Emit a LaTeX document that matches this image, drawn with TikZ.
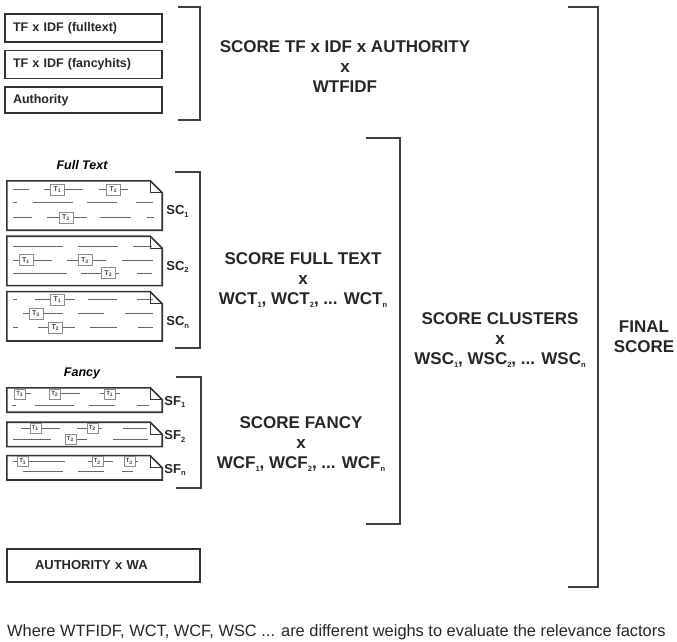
\documentclass[tikz,border=0pt]{standalone}
\usepackage{fontspec}
\setmainfont{Liberation Sans}
\usetikzlibrary{positioning}
\newcommand{\indice}[1]{\raisebox{-2.5pt}{\fontsize{7.5}{7.5}\selectfont #1}}
\tikzset{
  caja/.style={rectangle, draw=black!80, line width=1.6pt, inner ysep=0pt,
               inner xsep=8pt, text width=141pt, minimum height=28pt,
               align=left, font=\fontsize{12.5}{14}\selectfont\bfseries,
               text=black!85},
  hoja/.style={rectangle, inner sep=0pt, minimum width=155pt},
  borde/.style={draw=black!80, line width=1.6pt, line join=miter},
  renglon/.style={draw=black!60, line width=1.3pt},
  marca/.style={rectangle, draw=black!45, line width=0.6pt, fill=white,
                inner sep=0pt, minimum width=14pt, minimum height=11pt,
                font=\fontsize{7}{7}\selectfont\bfseries, text=black!75},
  corchete/.style={draw=black!75, line width=1.8pt},
  titulo/.style={align=center, font=\fontsize{17}{20}\selectfont\bfseries,
                 text=black!85},
  etiqueta/.style={anchor=west, inner sep=0pt,
                   font=\fontsize{13}{13}\selectfont\bfseries, text=black!85}
}
% contorno de la hoja con la esquina doblada
\newcommand{\hojaborde}[2]{%
  \draw[borde] (#1.south west) -- (#1.north west)
    -- ([xshift=-#2]#1.north east) -- ([yshift=-#2]#1.north east)
    -- (#1.south east) -- cycle;
  \draw[borde, line width=1pt] ([xshift=-#2]#1.north east)
    -- ([xshift=-#2,yshift=-#2]#1.north east) -- ([yshift=-#2]#1.north east);}
% renglones y terminos dentro de una hoja
\newcommand{\contenido}[4][marca]{%
  \begin{scope}[shift={(#2.north west)}]
    \foreach \a/\b/\y in {#3} \draw[renglon] (\a,-\y) -- (\b,-\y);
    \foreach \x/\y/\t [count=\k] in {#4}
      \node[#1] (#2-t\k) at (\x,-\y) {T\textsubscript{\t}};
  \end{scope}}

\begin{document}
\begin{tikzpicture}[x=1pt, y=1pt,
  chica/.style={marca, minimum width=11pt, minimum height=10pt,
                font=\fontsize{6}{6}\selectfont\bfseries}
]
  \useasboundingbox (0,0) rectangle (677,-642);

  % ── Factores TF x IDF ──
  \node[caja]                                  (tfft) at (83.5,-28) {TF x IDF (fulltext)};
  \node[caja, below=7pt of tfft]               (tffh) {TF x IDF (fancyhits)};
  \node[caja, below=7pt of tffh, minimum height=26pt] (aut) {Authority};
  \draw[corchete] (178,-7) -| (200,-120) -- (178,-120);
  \node[titulo] (stfidf) at (345,-67) {SCORE TF x IDF x AUTHORITY\\x\\WTFIDF};

  % ── Full Text ──
  \node[font=\fontsize{12.5}{14}\selectfont\bfseries\itshape] (lft) at (82,-165) {Full Text};
  \node[hoja, minimum height=49pt]                  (ft1) at (84.5,-205.5) {};
  \node[hoja, minimum height=49pt, below=6pt of ft1] (ft2) {};
  \node[hoja, minimum height=49pt, below=6pt of ft2] (ft3) {};
  \foreach \h in {ft1,ft2,ft3} {\hojaborde{\h}{12pt}}
  \contenido{ft1}{6/22/9, 37/76/9, 92/121/9, 6/10/22, 26/66/22, 80/110/22,
                  129/146/22, 6/25/37, 40/80/37, 93/124/37, 140/147/37}
                 {50.5/9/1, 106.5/9/2, 59/37/3}
  \contenido{ft2}{6/56/10, 71/111/10, 126/145/10, 6/45/24, 60/99/24,
                  115/146/24, 6/60/37, 74/112/37, 130/145/37}
                 {19/24/1, 78/24/3, 101.5/37/2}
  \contenido{ft3}{6/10/8, 28/68/8, 81/110/8, 130/146/8, 16/56/22, 71/97/22,
                  118/146/22, 6/11/36, 31/68/36, 83/110/36, 131/146/36}
                 {50.5/8/1, 29/22/3, 48.5/36/2}
  \node[etiqueta] (sc1) at ([xshift=4pt,yshift=-6pt]ft1.east) {SC\indice{1}};
  \node[etiqueta] (sc2) at ([xshift=4pt,yshift=-6pt]ft2.east) {SC\indice{2}};
  \node[etiqueta] (scn) at ([xshift=4pt,yshift=-6pt]ft3.east) {SC\indice{n}};
  \draw[corchete] (175,-172) -| (200,-348) -- (175,-348);

  % ── Fancy ──
  \node[font=\fontsize{12.5}{14}\selectfont\bfseries\itshape] (lfy) at (82,-373) {Fancy};
  \node[hoja, minimum height=24pt]                    (fy1) at (84.5,-400) {};
  \node[hoja, minimum height=24pt, below=10pt of fy1] (fy2) {};
  \node[hoja, minimum height=24pt, below=9pt of fy2]  (fy3) {};
  \foreach \h in {fy1,fy2,fy3} {\hojaborde{\h}{12pt}}
  \contenido[chica]{fy1}{8/24/6, 43/73/6, 93/113/6, 5/9/18, 28/67/18, 82/108/18, 130/142/18}
                        {13/6/3, 48/6/2, 103/6/1}
  \contenido[chica]{fy2}{14/53/6, 70/95/6, 116/140/6, 6/44/17, 58/80/17, 106/141/17}
                        {28.5/6/1, 85.5/6/2, 63.5/17/3}
  \contenido[chica]{fy3}{6/58/6, 81/106/6, 117/131/6, 16/56/16, 71/97/16, 115/126/16}
                        {16/6/1, 90.5/6/2, 122.5/6/3}
  \node[etiqueta] (sf1) at ([xshift=2pt,yshift=-2pt]fy1.east) {SF\indice{1}};
  \node[etiqueta] (sf2) at ([xshift=2pt,yshift=-2pt]fy2.east) {SF\indice{2}};
  \node[etiqueta] (sfn) at ([xshift=2pt,yshift=-2pt]fy3.east) {SF\indice{n}};
  \draw[corchete] (176,-377) -| (201,-488) -- (176,-488);

  % ── Scores intermedios ──
  \node[titulo] (sft) at (303,-280)
        {SCORE FULL TEXT\\x\\WCT\indice{1}, WCT\indice{2}, ... WCT\indice{n}};
  \node[titulo] (sfy) at (301,-444)
        {SCORE FANCY\\x\\WCF\indice{1}, WCF\indice{2}, ... WCF\indice{n}};
  \draw[corchete] (366,-138) -| (400,-524) -- (366,-524);
  \node[titulo] (scl) at (500,-340)
        {SCORE CLUSTERS\\x\\WSC\indice{1}, WSC\indice{2}, ... WSC\indice{n}};

  % ── Score final ──
  \draw[corchete] (568,-7) -| (598,-587) -- (568,-587);
  \node[titulo] (fin) at (644,-337) {FINAL\\SCORE};

  \node[caja, text width=137pt, inner xsep=28pt, minimum height=33pt,
        font=\fontsize{13}{14}\selectfont\bfseries] (awa) at (103.5,-565.5) {AUTHORITY x WA};

  \node[anchor=west, inner sep=0pt, font=\fontsize{16.4}{18}\selectfont, text=black!85]
        (nota) at (7,-632)
        {Where WTFIDF, WCT, WCF, WSC ... are different weighs to evaluate the relevance factors};
\end{tikzpicture}
\end{document}
